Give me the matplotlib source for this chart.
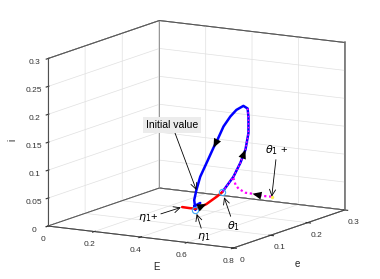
import numpy as np
import matplotlib
matplotlib.use('Agg')
import matplotlib.pyplot as plt
from mpl_toolkits.mplot3d import proj3d
from matplotlib.ticker import FormatStrFormatter

plt.rcParams['font.family'] = ['Liberation Sans', 'DejaVu Sans']

# ---------------- data (E, e, i) ----------------
blue_E = [0.444, 0.434, 0.436, 0.434, 0.437, 0.444, 0.456, 0.466, 0.472, 0.482, 0.494,
          0.504, 0.515, 0.522, 0.524, 0.524, 0.519, 0.510, 0.499, 0.489, 0.480]
blue_e = [0.133, 0.123, 0.125, 0.123, 0.127, 0.133, 0.145, 0.155, 0.162, 0.172, 0.183,
          0.193, 0.205, 0.212, 0.213, 0.213, 0.208, 0.200, 0.188, 0.178, 0.170]
blue_i = [0.033, 0.029, 0.022, 0.040, 0.057, 0.080, 0.106, 0.128, 0.141, 0.163, 0.179,
          0.189, 0.194, 0.188, 0.173, 0.144, 0.115, 0.093, 0.070, 0.057, 0.046]

red_E = [0.414, 0.426, 0.436, 0.444, 0.454, 0.464, 0.472, 0.480]
red_e = [0.103, 0.115, 0.125, 0.133, 0.143, 0.153, 0.162, 0.170]
red_i = [0.031, 0.027, 0.024, 0.026, 0.029, 0.035, 0.040, 0.046]

magside_E = [0.522, 0.524, 0.524, 0.519, 0.510, 0.499, 0.489, 0.480]
magside_e = [0.212, 0.213, 0.213, 0.208, 0.200, 0.188, 0.178, 0.170]
magside_i = [0.188, 0.173, 0.144, 0.115, 0.093, 0.070, 0.057, 0.046]

magbr_E = [0.499, 0.502, 0.507, 0.519, 0.530, 0.547, 0.562]
magbr_e = [0.188, 0.192, 0.197, 0.208, 0.220, 0.237, 0.252]
magbr_i = [0.068, 0.055, 0.047, 0.038, 0.034, 0.027, 0.023]

eta1 = (0.436, 0.125, 0.022)
theta1 = (0.480, 0.170, 0.046)
eta1_plus = (0.414, 0.103, 0.031)
theta1_plus = (0.562, 0.252, 0.023)
init_val = (0.437, 0.127, 0.057)

E_ticks = [0, 0.2, 0.4, 0.6, 0.8]
e_ticks = [0, 0.1, 0.2, 0.3]
i_ticks = [0, 0.05, 0.1, 0.15, 0.2, 0.25, 0.3]

W, H = 380, 279
fig = plt.figure(figsize=(W / 100, H / 100), dpi=100)
ax = fig.add_axes([0.1, 0.1, 0.8, 0.8], projection='3d', proj_type='ortho')
ax.view_init(elev=11.6, azim=-59.5)
ax.set_box_aspect((1.0, 1.02, 0.795))
ax.set_xlim(0, 0.8)
ax.set_ylim(0, 0.3)
ax.set_zlim(0, 0.3)
ax.set_xticks(E_ticks)
ax.set_yticks(e_ticks)
ax.set_zticks(i_ticks)
for a in (ax.xaxis, ax.yaxis, ax.zaxis):
    a.set_major_formatter(FormatStrFormatter('%g'))
    a.set_pane_color((1, 1, 1, 1))
    a.pane.set_edgecolor('#3a3a3a')
    a.pane.set_linewidth(0.7)
    a._axinfo['grid'].update(color='#e0e0e0', linewidth=0.5)
    a.line.set_color('#404040')
    a.line.set_linewidth(0.7)
ax.zaxis.set_ticks_position('lower')
ax.zaxis.set_label_position('lower')
ax.tick_params(labelsize=6, colors='#333333', pad=-2)
ax.set_xlabel('')
ax.set_ylabel('')
ax.set_zlabel('')

# back box edges (drawn over the grid, as in the original)
x0l, x1l = ax.get_xlim()
y0l, y1l = ax.get_ylim()
z0l, z1l = ax.get_zlim()
edge_kw = dict(color='#505050', lw=0.7)
ax.plot([x0l, x0l, x1l], [y0l, y1l, y1l], [z1l, z1l, z1l], **edge_kw)
ax.plot([x0l, x0l, x1l], [y0l, y1l, y1l], [z0l, z0l, z0l], **edge_kw)
ax.plot([x1l, x1l], [y1l, y1l], [z0l, z1l], color='#707070', lw=1.1)
ax.plot([x0l, x0l], [y1l, y1l], [z0l, z1l], color='#8a8a8a', lw=0.6)
ax.plot([x0l, x0l], [y0l, y0l], [z0l, z1l], color='#505050', lw=0.8)

ax.plot(blue_E, blue_e, blue_i, color='#0000ff', lw=1.8, solid_capstyle='round', solid_joinstyle='round')
ax.plot(red_E, red_e, red_i, color='#ff0000', lw=1.8, solid_capstyle='round')
ax.plot(magside_E, magside_e, magside_i, color='#ff00ff', lw=1.1, ls=(0, (1, 1.4)))
ax.plot(magbr_E, magbr_e, magbr_i, color='#ff00ff', lw=1.6, ls=(0, (1, 1.2)))
ax.plot([theta1_plus[0]], [theta1_plus[1]], [theta1_plus[2]], 'o', ms=2.5, color='#ffee55', mec='none')
ax.plot([eta1[0], theta1[0]], [eta1[1], theta1[1]], [eta1[2], theta1[2]], 'o', ms=4.5,
        mfc='none', mec='#3fa9f5', mew=0.8, ls='none')

# ---- fit the axes box to the target pixel frame ----
fig.canvas.draw()
M = ax.get_proj()
fx, fy = [], []
inv = ax.transAxes.inverted()
for x in (x0l, x1l):
    for y in (y0l, y1l):
        for z in (z0l, z1l):
            X, Y, _ = proj3d.proj_transform(x, y, z, M)
            u, v = inv.transform(ax.transData.transform((X, Y)))
            fx.append(u)
            fy.append(v)
side_x = (344 - 48) / (max(fx) - min(fx))
side_y = (248 - 20) / (max(fy) - min(fy))
side = 0.5 * (side_x + side_y)
px0 = 48 - side * min(fx)
py0 = (H - 248) - side * min(fy)
ax.set_position([px0 / W, py0 / H, side / W, side / H])

# axis titles
fig.text(156 / W, 1 - 267 / H, 'E', fontsize=7, ha='center', va='center', color='#222222')
fig.text(297 / W, 1 - 264 / H, 'e', fontsize=7, ha='center', va='center', color='#222222')
fig.text(12 / W, 1 - 140 / H, 'i', fontsize=7, ha='center', va='center', rotation=90, color='#222222')


def P(pt):
    X, Y, _ = proj3d.proj_transform(pt[0], pt[1], pt[2], M)
    return (X, Y)


def P3(E, e, i, k):
    return P((E[k], e[k], i[k]))


# trajectory direction arrowheads
head = dict(arrowstyle='-|>,head_length=0.65,head_width=0.28', lw=0, color='k', fc='k',
            shrinkA=0, shrinkB=0, mutation_scale=10)
for A, B in [(P3(blue_E, blue_e, blue_i, 8), P3(blue_E, blue_e, blue_i, 7)),
             (P3(blue_E, blue_e, blue_i, 17), P3(blue_E, blue_e, blue_i, 16)),
             (P3(red_E, red_e, red_i, 3), P3(red_E, red_e, red_i, 4)),
             (P3(magbr_E, magbr_e, magbr_i, 5), P3(magbr_E, magbr_e, magbr_i, 4))]:
    ax.annotate('', xy=B, xycoords='data', xytext=A, textcoords='data',
                arrowprops=head, zorder=10)

thin = dict(arrowstyle='->,head_length=0.45,head_width=0.22', lw=0.6, color='k',
            shrinkA=0, mutation_scale=10)
ax.annotate('Initial value', xy=P(init_val), xycoords='data', xytext=(172, H - 125),
            textcoords='figure pixels', ha='center', va='center', fontsize=7.5,
            bbox=dict(boxstyle='square,pad=0.25', fc='#ececec', ec='none'),
            arrowprops=dict(thin, shrinkB=0), zorder=11)
ax.annotate(r'$\theta_1$ +', xy=P(theta1_plus), xycoords='data', xytext=(277, H - 150),
            textcoords='figure pixels', ha='center', va='center', fontsize=8,
            arrowprops=dict(thin, shrinkB=0), zorder=11)
ax.annotate(r'$\theta_1$', xy=P(theta1), xycoords='data', xytext=(234, H - 226),
            textcoords='figure pixels', ha='center', va='center', fontsize=8,
            arrowprops=dict(thin, shrinkB=4), zorder=11)
ax.annotate(r'$\eta_1$', xy=P(eta1), xycoords='data', xytext=(204, H - 237),
            textcoords='figure pixels', ha='center', va='center', fontsize=8,
            arrowprops=dict(thin, shrinkB=3), zorder=11)
ax.annotate(r'$\eta_1$+', xy=P(eta1_plus), xycoords='data', xytext=(148, H - 218),
            textcoords='figure pixels', ha='center', va='center', fontsize=8,
            arrowprops=dict(thin, shrinkB=1), zorder=11)

fig.savefig('out.png', dpi=100)
